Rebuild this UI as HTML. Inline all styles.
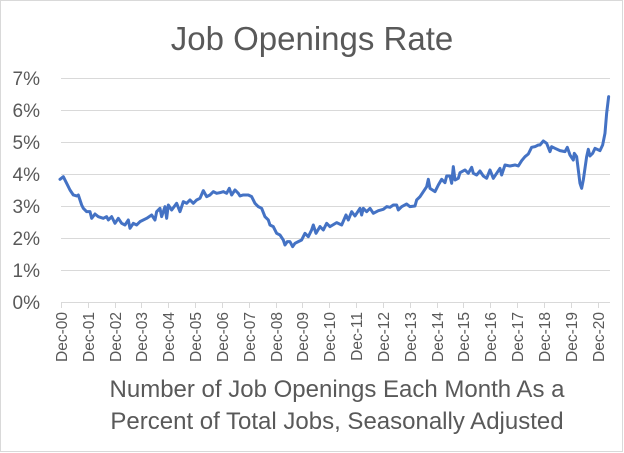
<!DOCTYPE html>
<html><head><style>
body{margin:0;background:#fff}
svg{display:block}
text{font-family:"Liberation Sans",sans-serif;fill:#595959}
</style></head><body>
<svg width="624" height="453" viewBox="0 0 624 453">
<rect x="0.5" y="0.5" width="622" height="451" fill="#fff" stroke="#d9d9d9"/>
<text x="312" y="50" font-size="33" text-anchor="middle">Job Openings Rate</text>
<g stroke="#d9d9d9" stroke-width="1">
<line x1="61" x2="610" y1="78.5" y2="78.5"/><line x1="61" x2="610" y1="110.5" y2="110.5"/>
<line x1="61" x2="610" y1="142.5" y2="142.5"/><line x1="61" x2="610" y1="174.5" y2="174.5"/>
<line x1="61" x2="610" y1="206.5" y2="206.5"/><line x1="61" x2="610" y1="238.5" y2="238.5"/>
<line x1="61" x2="610" y1="270.5" y2="270.5"/><line x1="61" x2="610" y1="302.5" y2="302.5"/>
</g>
<g font-size="19" text-anchor="end">
<text x="40" y="85">7%</text><text x="40" y="117">6%</text><text x="40" y="149">5%</text>
<text x="40" y="181">4%</text><text x="40" y="213">3%</text><text x="40" y="245">2%</text>
<text x="40" y="277">1%</text><text x="40" y="309">0%</text>
</g>
<g stroke="#d9d9d9">
<line x1="61.5" x2="61.5" y1="302" y2="308"/><line x1="88.5" x2="88.5" y1="302" y2="308"/>
<line x1="115.5" x2="115.5" y1="302" y2="308"/><line x1="141.5" x2="141.5" y1="302" y2="308"/>
<line x1="168.5" x2="168.5" y1="302" y2="308"/><line x1="195.5" x2="195.5" y1="302" y2="308"/>
<line x1="222.5" x2="222.5" y1="302" y2="308"/><line x1="249.5" x2="249.5" y1="302" y2="308"/>
<line x1="276.5" x2="276.5" y1="302" y2="308"/><line x1="302.5" x2="302.5" y1="302" y2="308"/>
<line x1="329.5" x2="329.5" y1="302" y2="308"/><line x1="356.5" x2="356.5" y1="302" y2="308"/>
<line x1="383.5" x2="383.5" y1="302" y2="308"/><line x1="410.5" x2="410.5" y1="302" y2="308"/>
<line x1="437.5" x2="437.5" y1="302" y2="308"/><line x1="463.5" x2="463.5" y1="302" y2="308"/>
<line x1="490.5" x2="490.5" y1="302" y2="308"/><line x1="517.5" x2="517.5" y1="302" y2="308"/>
<line x1="544.5" x2="544.5" y1="302" y2="308"/><line x1="571.5" x2="571.5" y1="302" y2="308"/>
<line x1="598.5" x2="598.5" y1="302" y2="308"/>
</g>
<g font-size="15.5" text-anchor="end">
<text transform="translate(67,312) rotate(-90)">Dec-00</text>
<text transform="translate(94,312) rotate(-90)">Dec-01</text>
<text transform="translate(121,312) rotate(-90)">Dec-02</text>
<text transform="translate(147,312) rotate(-90)">Dec-03</text>
<text transform="translate(174,312) rotate(-90)">Dec-04</text>
<text transform="translate(201,312) rotate(-90)">Dec-05</text>
<text transform="translate(228,312) rotate(-90)">Dec-06</text>
<text transform="translate(255,312) rotate(-90)">Dec-07</text>
<text transform="translate(282,312) rotate(-90)">Dec-08</text>
<text transform="translate(308,312) rotate(-90)">Dec-09</text>
<text transform="translate(335,312) rotate(-90)">Dec-10</text>
<text transform="translate(362,312) rotate(-90)">Dec-11</text>
<text transform="translate(389,312) rotate(-90)">Dec-12</text>
<text transform="translate(416,312) rotate(-90)">Dec-13</text>
<text transform="translate(443,312) rotate(-90)">Dec-14</text>
<text transform="translate(469,312) rotate(-90)">Dec-15</text>
<text transform="translate(496,312) rotate(-90)">Dec-16</text>
<text transform="translate(523,312) rotate(-90)">Dec-17</text>
<text transform="translate(550,312) rotate(-90)">Dec-18</text>
<text transform="translate(577,312) rotate(-90)">Dec-19</text>
<text transform="translate(604,312) rotate(-90)">Dec-20</text>
</g>
<g fill="none" stroke="#4472C4" stroke-width="9" stroke-linejoin="round" stroke-linecap="round">
<polyline transform="translate(0,60) scale(0.3333)" points="180,358 190,350 200,370 210,390 220,405 230,408 235,405 240,420 245,435 250,445 260,455 270,455 275,475 285,462 295,470 310,475 320,470 325,480 335,470 340,480 345,490 355,475 365,490 375,495 385,480 390,505 400,490 410,495 420,485 440,475 455,465 465,480 470,455 480,445 485,470 495,440 500,475 505,435 515,450 530,430 540,455 550,425 560,430 570,420 580,430 590,420 600,415 610,392 620,410 630,405 640,395 650,400 660,398 670,395 680,400 688,385 695,405 705,390 715,400 720,408 730,405 745,405 755,410 765,430 775,440 785,445 795,470 805,480 810,495 820,500 830,520 840,525 850,540 855,555 862,545 870,545 878,560 885,550 895,545 905,540 915,520 925,530 935,510 940,495 948,520 960,500"/>
<polyline transform="translate(320,60) scale(0.3333)" points="0,500 10,510 20,490 30,500 50,488 65,495 78,465 85,480 95,455 105,468 120,445 125,465 130,445 140,455 150,445 160,460 175,452 190,448 200,440 210,442 220,435 230,435 235,450 245,440 260,432 270,440 285,438 290,420 300,410 310,395 320,380 325,358 330,385 345,395 355,375 365,358 375,368 380,348 390,348 395,370 400,320 405,360 415,355 420,338 435,330 445,340 455,322 460,340 470,345 480,333 490,348 500,355 510,330 520,355 530,340 540,325 545,345 555,315 570,318 585,315 595,318 605,302 615,290 625,282 635,262 645,260 655,255 660,255 670,243 680,250 690,275 695,260 705,265 720,272 735,275 742,262 750,285 760,300 763,280 770,290 780,370 785,385 790,360 800,290 805,268 810,288 818,280 825,265 840,272 848,255 855,220 860,160 866,110"/>
</g>
<text x="337" y="397" font-size="24" text-anchor="middle">Number of Job Openings Each Month As a</text>
<text x="337" y="429" font-size="24" text-anchor="middle">Percent of Total Jobs, Seasonally Adjusted</text>
</svg>
</body></html>
